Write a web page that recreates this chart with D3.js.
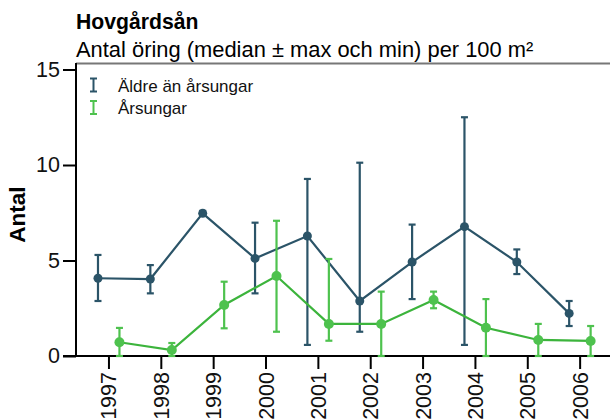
<!DOCTYPE html>
<html>
<head>
<meta charset="utf-8">
<script src="https://cdn.jsdelivr.net/npm/d3@7"></script>
<style>
  body { margin: 0; background: #fff; }
  svg { display: block; font-family: "Liberation Sans", Arial, sans-serif; }
</style>
</head>
<body>
<div id="chart"></div>
<script>
const years = [1997, 1998, 1999, 2000, 2001, 2002, 2003, 2004, 2005, 2006];

// Äldre än årsungar: median, max, min
const olderMedian = [4.07, 4.03, 7.47, 5.11, 6.28, 2.88, 4.92, 6.77, 4.92, 2.23];
const olderMax    = [5.29, 4.76, 7.6, 6.98, 9.27, 10.12, 6.88, 12.5, 5.58, 2.88];
const olderMin    = [2.88, 3.28, 7.4, 3.28, 0.58, 1.27, 2.98, 0.58, 4.29, 1.57];

// Årsungar: median, max, min
const youngMedian = [0.72, 0.31, 2.67, 4.19, 1.68, 1.68, 2.93, 1.48, 0.84, 0.79];
const youngMax    = [1.47, 0.68, 3.89, 7.08, 5.08, 3.37, 3.37, 2.98, 1.68, 1.57];
const youngMin    = [0, 0, 1.45, 1.27, 0.8, 0, 2.5, 0, 0, 0];

const yTicks = [0, 5, 10, 15];

const width = 610, height = 419,
  margin = ({ top: 63, right: 0, bottom: 63, left: 76 });

const darkColor = "#2b5468",
  greenLine = "#3cb43c",
  greenBar = "#4ec24e";

const x = d3.scaleLinear()
  .domain([1996.38, 2006.58])
  .range([margin.left, width - margin.right]);

const y = d3.scaleLinear()
  .domain([0, 15])
  .range([356, 69.5]);

const svg = d3.select("#chart")
  .append("svg")
  .attr("width", width)
  .attr("height", height)
  .attr("viewBox", [0, 0, width, height]);

// titles
svg.append("text")
  .attr("x", 76)
  .attr("y", 29)
  .attr("font-size", 21.2)
  .attr("font-weight", "bold")
  .text("Hovgårdsån");

svg.append("text")
  .attr("x", 76)
  .attr("y", 56.5)
  .attr("font-size", 21.9)
  .text("Antal öring (median ± max och min) per 100 m²");

// top border
svg.append("line")
  .attr("x1", margin.left).attr("x2", width)
  .attr("y1", 63.5).attr("y2", 63.5)
  .attr("stroke", "#777")
  .attr("stroke-width", 2);

// y axis
const yAxis = svg.append("g")
  .attr("transform", `translate(${margin.left},0)`)
  .call(d3.axisLeft(y).tickValues(yTicks).tickSize(13).tickPadding(3).tickSizeOuter(0));
yAxis.select(".domain").remove();
yAxis.selectAll(".tick line").attr("stroke", "#000").attr("stroke-width", 2);
yAxis.selectAll(".tick text").attr("font-size", 21.5).attr("fill", "#111").attr("font-family", "Liberation Sans, Arial, sans-serif");

svg.append("line")
  .attr("x1", margin.left).attr("x2", margin.left)
  .attr("y1", 63).attr("y2", y(0))
  .attr("stroke", "#000")
  .attr("stroke-width", 2);

// x axis
const xAxis = svg.append("g")
  .attr("transform", `translate(0,${y(0)})`)
  .call(d3.axisBottom(x).tickValues(years).tickFormat(d3.format("d")).tickSize(13).tickSizeOuter(0));
xAxis.select(".domain").remove();
xAxis.selectAll(".tick line").attr("stroke", "#000").attr("stroke-width", 2);
xAxis.selectAll(".tick text")
  .attr("font-size", 21.5)
  .attr("fill", "#111")
  .attr("font-family", "Liberation Sans, Arial, sans-serif")
  .attr("text-anchor", "end")
  .attr("dy", null)
  .attr("y", 0)
  .attr("transform", "translate(7.5,16) rotate(-90)");

svg.append("line")
  .attr("x1", 63).attr("x2", width)
  .attr("y1", y(0)).attr("y2", y(0))
  .attr("stroke", "#000")
  .attr("stroke-width", 2);

// y label
svg.append("text")
  .attr("transform", `translate(25,${(69 + 356) / 2 + 2}) rotate(-90)`)
  .attr("text-anchor", "middle")
  .attr("font-size", 22.5)
  .attr("font-weight", "bold")
  .text("Antal");

// series
const series = [
  { med: olderMedian, max: olderMax, min: olderMin, off: -0.2, line: darkColor, bar: darkColor, r: 4.5 },
  { med: youngMedian, max: youngMax, min: youngMin, off: 0.21, line: greenLine, bar: greenBar, r: 5 }
];

series.forEach(s => {
  const pts = years.map((yr, i) => ({ x: yr + s.off, med: s.med[i], max: s.max[i], min: s.min[i] }));
  const g = svg.append("g");

  g.append("path")
    .datum(pts)
    .attr("fill", "none")
    .attr("stroke", s.line)
    .attr("stroke-width", 2.2)
    .attr("d", d3.line().x(d => x(d.x)).y(d => y(d.med)));

  const bars = g.selectAll("g.bar")
    .data(pts)
    .join("g")
    .attr("class", "bar")
    .attr("stroke", s.bar)
    .attr("stroke-width", 2.2);

  bars.append("line")
    .attr("x1", d => x(d.x)).attr("x2", d => x(d.x))
    .attr("y1", d => y(d.max)).attr("y2", d => y(d.min));
  bars.append("line")
    .attr("x1", d => x(d.x) - 3.5).attr("x2", d => x(d.x) + 3.5)
    .attr("y1", d => y(d.max)).attr("y2", d => y(d.max));
  bars.append("line")
    .attr("x1", d => x(d.x) - 3.5).attr("x2", d => x(d.x) + 3.5)
    .attr("y1", d => y(d.min)).attr("y2", d => y(d.min));

  g.selectAll("circle")
    .data(pts)
    .join("circle")
    .attr("cx", d => x(d.x))
    .attr("cy", d => y(d.med))
    .attr("r", s.r)
    .attr("fill", s.bar);
});

// legend
const legendItems = [
  { label: "Äldre än årsungar", color: darkColor, y: 85 },
  { label: "Årsungar", color: greenBar, y: 107.5 }
];
const lg = svg.append("g");
legendItems.forEach(item => {
  const sym = lg.append("g").attr("stroke", item.color).attr("stroke-width", 2);
  sym.append("line").attr("x1", 93.5).attr("x2", 93.5).attr("y1", item.y - 6.5).attr("y2", item.y + 6.5);
  sym.append("line").attr("x1", 90).attr("x2", 97).attr("y1", item.y - 6.5).attr("y2", item.y - 6.5);
  sym.append("line").attr("x1", 90).attr("x2", 97).attr("y1", item.y + 6.5).attr("y2", item.y + 6.5);
  lg.append("text")
    .attr("x", 118)
    .attr("y", item.y + 6.5)
    .attr("font-size", 17)
    .attr("fill", "#111")
    .text(item.label);
});
</script>
</body>
</html>
